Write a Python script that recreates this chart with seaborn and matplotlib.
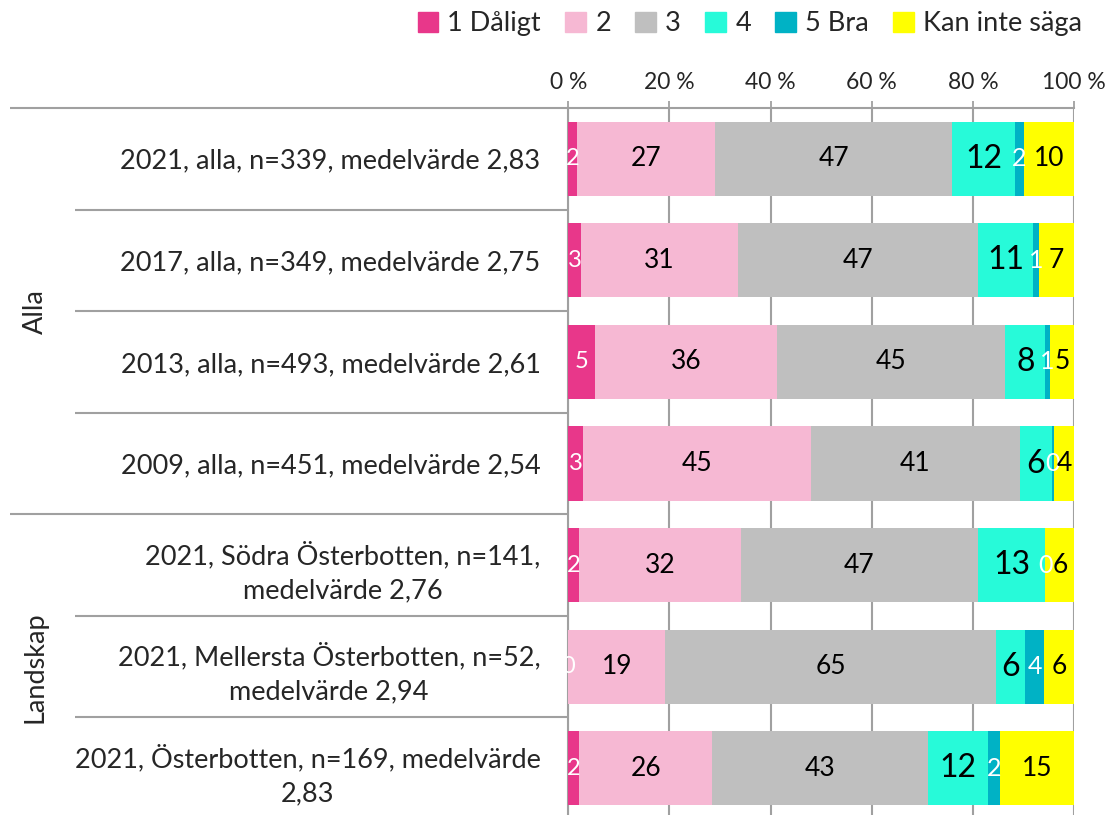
import matplotlib
matplotlib.use("Agg")
import matplotlib.pyplot as plt
import matplotlib.patches as mpatches
import numpy as np
import pandas as pd
import seaborn as sns

# rows, top to bottom
categories = [
    "2021, alla, n=339, medelvärde 2,83",
    "2017, alla, n=349, medelvärde 2,75",
    "2013, alla, n=493, medelvärde 2,61",
    "2009, alla, n=451, medelvärde 2,54",
    "2021, Södra Österbotten, n=141,\nmedelvärde 2,76",
    "2021, Mellersta Österbotten, n=52,\nmedelvärde 2,94",
    "2021, Österbotten, n=169, medelvärde\n2,83",
]
groups = ["Alla", "Landskap"]
group_sizes = [4, 3]

series = ["1 Dåligt", "2", "3", "4", "5 Bra", "Kan inte säga"]
dåligt = [1.7, 2.6, 5.3, 3.0, 2.1, 0.0, 2.1]
två = [27.4, 30.9, 35.9, 45.0, 32.0, 19.2, 26.4]
tre = [46.8, 47.4, 45.2, 41.2, 46.8, 65.4, 42.7]
fyra = [12.4, 11.0, 7.9, 6.4, 13.4, 5.7, 11.8]
bra = [1.8, 1.1, 0.9, 0.4, 0.0, 3.8, 2.4]
vet_ej = [9.9, 7.0, 4.8, 4.0, 5.7, 5.9, 14.6]
ticks = [0, 20, 40, 60, 80, 100]

colors = ["#E8378A", "#F6B8D3", "#BFBFBF", "#27FAD9", "#00B2C5", "#FFFF00"]
label_colors = ["white", "black", "black", "black", "white", "black"]
label_sizes = [17, 19, 19, 23, 18, 19]

df = pd.DataFrame(dict(zip(series, [dåligt, två, tre, fyra, bra, vet_ej])), index=categories)
cum = df.cumsum(axis=1)

sns.set_style("white")
plt.rcParams["font.family"] = ["Lato", "DejaVu Sans"]

fig = plt.figure(figsize=(11.12, 8.15), dpi=100)
ax = fig.add_axes([0.511, -0.005, 0.455, 0.8725])

# stacked bars: draw cumulative totals from the longest to the shortest
for s, c in reversed(list(zip(series, colors))):
    sns.barplot(x=cum[s].values, y=categories, orient="h", color=c, saturation=1,
                width=0.73, order=categories, ax=ax, linewidth=0, zorder=3)

for j, s in enumerate(series):
    for i, cat in enumerate(categories):
        v = df.loc[cat, s]
        ax.text(cum.loc[cat, s] - v / 2, i, f"{v:.0f}", ha="center", va="center",
                color=label_colors[j], fontsize=label_sizes[j], zorder=5)

grid_c = "#A0A0A0"
ax.set_xlim(0, 100)
ax.set_ylim(len(categories) - 0.5, -0.5)
ax.xaxis.tick_top()
ax.set_xticks(ticks)
ax.set_xticklabels([f"{t} %" for t in ticks], fontsize=16.5)
ax.tick_params(axis="x", which="both", top=True, length=5, width=1.3, color=grid_c, pad=6)
ax.grid(axis="x", color=grid_c, linewidth=1.5, zorder=0)
ax.set_axisbelow(True)
ax.set_yticks(range(len(categories)))
ax.set_yticklabels(categories, fontsize=19.5)
for lab in ax.get_yticklabels():
    lab.set_multialignment("center")
    lab.set_linespacing(1.45)
ax.tick_params(axis="y", length=0, pad=20)
ax.set_xlabel("")
ax.set_ylabel("")
for side in ["right", "bottom"]:
    ax.spines[side].set_visible(False)
for side in ["left", "top"]:
    ax.spines[side].set_color(grid_c)
    ax.spines[side].set_linewidth(1.5)

# multi-level category separators to the left of the axis
tr = ax.get_yaxis_transform()
outer_x, inner_x = -1.103, -0.974
bounds = np.cumsum([0] + group_sizes) - 0.5
for k in range(len(categories) + 1):
    y = k - 0.5
    x0 = outer_x if y in bounds else inner_x
    ax.plot([x0, 0], [y, y], transform=tr, color=grid_c, linewidth=1.5,
            clip_on=False, solid_capstyle="butt")
for g, lo, hi in zip(groups, bounds[:-1], bounds[1:]):
    ax.text(-1.053, (lo + hi) / 2, g, transform=tr, rotation=90, ha="center",
            va="center", fontsize=19.5)

handles = [mpatches.Patch(color=c, label=s) for s, c in zip(series, colors)]
fig.legend(handles=handles, ncol=6, loc="upper right", bbox_to_anchor=(0.995, 1.016),
           frameon=False, fontsize=19.5, handlelength=0.75, handleheight=0.75,
           handletextpad=0.35, columnspacing=0.9)

fig.savefig("out.png", dpi=100)
